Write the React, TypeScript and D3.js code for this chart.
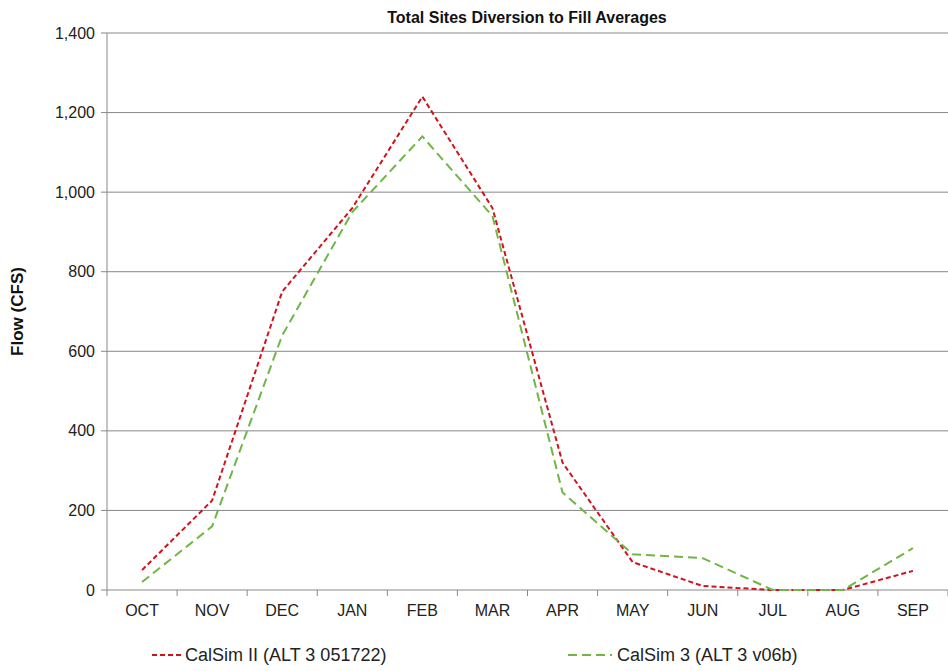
import * as d3 from "d3";
import React from "react";

const months = ["OCT", "NOV", "DEC", "JAN", "FEB", "MAR", "APR", "MAY", "JUN", "JUL", "AUG", "SEP"];
const calsim2 = [50, 225, 750, 960, 1240, 960, 320, 70, 10, 0, 0, 48];
const calsim3 = [20, 160, 640, 950, 1140, 940, 245, 90, 80, 0, 0, 105];
const yTicks = [0, 200, 400, 600, 800, 1000, 1200, 1400];

const App: React.FC = () => {
  const W = 948, H = 671;
  const m = { left: 107, right: 0, top: 33, bottom: 81 };
  const x = d3.scaleBand().domain(months).range([m.left, W - m.right]);
  const y = d3.scaleLinear().domain([0, 1400]).range([H - m.bottom, m.top]);
  const line = d3
    .line<number>()
    .x((_, i) => (x(months[i]) as number) + x.bandwidth() / 2)
    .y((d) => y(d));
  const font = "Arial, 'Liberation Sans', sans-serif";
  const edges = months.map((mo) => x(mo) as number).concat([W - m.right]);

  return (
    <svg width={W} height={H} style={{ position: "absolute", left: 0, top: 0, fontFamily: font }}>
      <rect width={W} height={H} fill="#fff" />
      {yTicks.map((t) => (
        <g key={t}>
          {t > 0 && <line x1={m.left} x2={W} y1={y(t)} y2={y(t)} stroke="#888" strokeWidth={1} />}
          <line x1={m.left - 6} x2={m.left} y1={y(t)} y2={y(t)} stroke="#888" />
          <text x={m.left - 12} y={y(t)} dy="0.35em" textAnchor="end" fontSize={16} fill="#222">
            {d3.format(",")(t)}
          </text>
        </g>
      ))}
      <line x1={m.left} x2={m.left} y1={m.top} y2={y(0)} stroke="#888" />
      <line x1={m.left} x2={W} y1={y(0)} y2={y(0)} stroke="#888" />
      {edges.map((e, i) => (
        <line key={i} x1={e} x2={e} y1={y(0)} y2={y(0) + 6} stroke="#888" />
      ))}
      {months.map((mo) => (
        <text key={mo} x={(x(mo) as number) + x.bandwidth() / 2} y={y(0) + 26} textAnchor="middle" fontSize={16} fill="#222">
          {mo}
        </text>
      ))}
      <path d={line(calsim2) || ""} fill="none" stroke="#d0131b" strokeWidth={2} strokeDasharray="5,3" />
      <path d={line(calsim3) || ""} fill="none" stroke="#6fb645" strokeWidth={2} strokeDasharray="9,5" />
      <text x={527} y={23} textAnchor="middle" fontSize={16} fontWeight="bold" fill="#111">
        Total Sites Diversion to Fill Averages
      </text>
      <text transform={`translate(23,${(m.top + y(0)) / 2}) rotate(-90)`} textAnchor="middle" fontSize={17} fontWeight="bold" fill="#111">
        Flow (CFS)
      </text>
      <line x1={152} x2={183} y1={655} y2={655} stroke="#d0131b" strokeWidth={2} strokeDasharray="5,3" />
      <text x={185} y={661} fontSize={18} fill="#222">CalSim II (ALT 3 051722)</text>
      <line x1={568} x2={612} y1={655} y2={655} stroke="#6fb645" strokeWidth={2} strokeDasharray="9,5" />
      <text x={617} y={661} fontSize={18} fill="#222">CalSim 3 (ALT 3 v06b)</text>
    </svg>
  );
};

export default App;
